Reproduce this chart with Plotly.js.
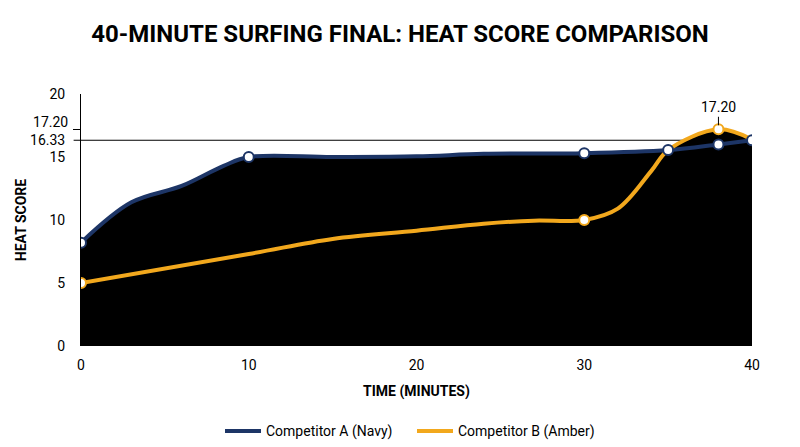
<!DOCTYPE html>
<html>
<head>
<meta charset="utf-8">
<script src="https://cdn.plot.ly/plotly-3.0.1.min.js"></script>
<style>
  html, body { margin: 0; padding: 0; background: #ffffff; }
  #chart { width: 800px; height: 447px; }
</style>
</head>
<body>
<div id="chart"></div>
<script>
// ---- data ----
const minutesA = [0, 3, 6, 8.5, 10, 15, 20, 24, 30, 35, 38, 40];
const scoresA  = [8.2, 11.4, 12.7, 14.3, 15.0, 15.0, 15.05, 15.25, 15.3, 15.55, 16.0, 16.33];
const keyMinutesA = [0, 10, 30, 35, 38, 40];

const minutesB = [0, 10, 15, 20, 24, 27, 30, 32, 34, 35, 38, 40];
const scoresB  = [5.0, 7.3, 8.5, 9.15, 9.7, 9.95, 10.0, 10.9, 13.9, 15.55, 17.2, 16.4];
const keyMinutesB = [0, 30, 38];

const yTickVals  = [0, 5, 10, 15, 16.33, 20];
const yTickText  = ['0', '5', '10', '15', '16.33', '20'];
const xTickVals  = [0, 10, 20, 30, 40];

const nameA = 'Competitor A (Navy)';
const nameB = 'Competitor B (Amber)';

const NAVY = '#1d3566';
const AMBER = '#f2a81d';
const FONT = 'Roboto, "Liberation Sans", sans-serif';

function pick(xs, ys, keys) {
    const out = { x: [], y: [] };
    xs.forEach((x, i) => {
        if (keys.includes(x)) { out.x.push(x); out.y.push(ys[i]); }
    });
    return out;
}

const keyA = pick(minutesA, scoresA, keyMinutesA);
const keyB = pick(minutesB, scoresB, keyMinutesB);

const peakB = Math.max(...scoresB);
const peakMinute = minutesB[scoresB.indexOf(peakB)];
const finalA = scoresA[scoresA.length - 1];

const fillTrace = (x, y) => ({
    x: x, y: y,
    type: 'scatter', mode: 'lines',
    line: { width: 0, shape: 'spline', color: '#000000' },
    fill: 'tozeroy', fillcolor: '#000000',
    showlegend: false, hoverinfo: 'skip'
});

const lineTrace = (x, y, name, color) => ({
    x: x, y: y, name: name,
    type: 'scatter', mode: 'lines',
    line: { color: color, width: 4, shape: 'spline' }
});

// markers sit on the overlay axis so they are drawn above every line
const markerTrace = (pts, color) => ({
    x: pts.x, y: pts.y, yaxis: 'y2',
    type: 'scatter', mode: 'markers',
    marker: { size: 10, color: '#ffffff', line: { color: color, width: 2 } },
    showlegend: false, hoverinfo: 'skip'
});

const data = [
    fillTrace(minutesA, scoresA),
    fillTrace(minutesB, scoresB),
    lineTrace(minutesA, scoresA, nameA, NAVY),
    lineTrace(minutesB, scoresB, nameB, AMBER),
    markerTrace(keyB, AMBER),
    markerTrace(keyA, NAVY)
];

const layout = {
    width: 800, height: 447,
    paper_bgcolor: '#ffffff',
    plot_bgcolor: '#ffffff',
    margin: { t: 94, r: 48, b: 101, l: 81 },
    font: { family: FONT, color: '#000000', size: 14 },
    title: {
        text: '40-MINUTE SURFING FINAL: HEAT SCORE COMPARISON',
        font: { family: FONT, size: 24, weight: 'bold', color: '#000000' },
        x: 0.5, xanchor: 'center',
        y: 0.925, yref: 'container', yanchor: 'middle'
    },
    xaxis: {
        range: [0, 40],
        tickvals: xTickVals,
        showgrid: false, zeroline: false, showline: false,
        ticks: '', ticklabelstandoff: 9,
        tickfont: { family: FONT, size: 14 },
        title: {
            text: 'TIME (MINUTES)',
            font: { family: FONT, size: 14, weight: 'bold' },
            standoff: 14
        }
    },
    yaxis: {
        range: [0, 20],
        tickvals: yTickVals,
        ticktext: yTickText,
        showgrid: false, zeroline: false,
        showline: true, linecolor: '#000000', linewidth: 1,
        ticks: '', ticklabelstandoff: 12,
        tickfont: { family: FONT, size: 14 },
        title: {
            text: 'HEAT SCORE',
            font: { family: FONT, size: 14, weight: 'bold' },
            standoff: 0
        }
    },
    // overlay axis: carries the markers and the tick for the peak value
    yaxis2: {
        overlaying: 'y', anchor: 'x', side: 'left',
        range: [0, 20],
        tickvals: [peakB],
        ticktext: [peakB.toFixed(2)],
        ticks: 'outside', ticklen: 7, tickcolor: '#000000', tickwidth: 1,
        ticklabelstandoff: 2, ticklabelshift: -7,
        tickfont: { family: FONT, size: 14 },
        showgrid: false, zeroline: false, showline: false
    },
    shapes: [{
        type: 'line', layer: 'below',
        xref: 'paper', yref: 'y',
        x0: -0.011, x1: 1, y0: finalA, y1: finalA,
        line: { color: '#000000', width: 1.2 }
    }],
    annotations: [{
        x: peakMinute, y: peakB, xref: 'x', yref: 'y',
        text: peakB.toFixed(2),
        showarrow: true, arrowhead: 0, arrowwidth: 1, arrowcolor: '#000000',
        ax: 0, ay: -22, standoff: 4,
        font: { family: FONT, size: 14, color: '#000000' }
    }],
    showlegend: true,
    legend: {
        orientation: 'h',
        x: 0.515, xanchor: 'center', xref: 'container',
        y: 0.035, yref: 'container', yanchor: 'middle',
        font: { family: FONT, size: 14, color: '#000000' },
        itemwidth: 36,
        entrywidth: 141
    }
};

Plotly.newPlot('chart', data, layout, { displayModeBar: false, staticPlot: true });
</script>
</body>
</html>
